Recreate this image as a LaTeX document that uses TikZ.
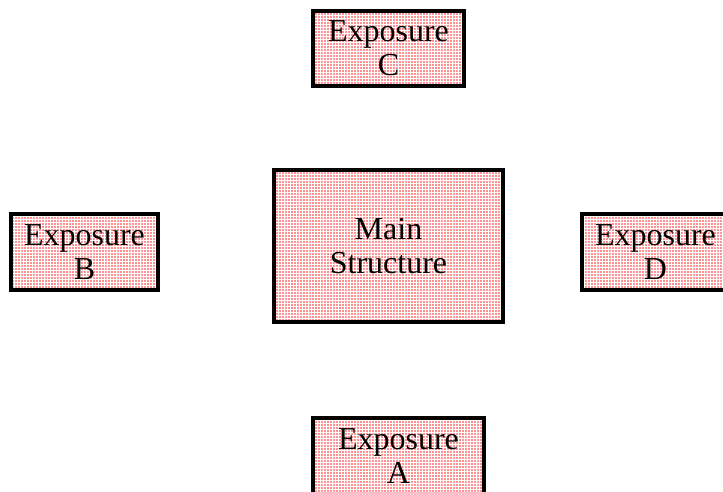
\documentclass[tikz,border=0pt]{standalone}
\usepackage{fontspec}
\setmainfont{Liberation Serif}
\usetikzlibrary{patterns}

% square red dots, 3pt apart
\pgfdeclarepatternformonly{reddots}{\pgfqpoint{0pt}{0pt}}{\pgfqpoint{3pt}{3pt}}{\pgfqpoint{3pt}{3pt}}{%
  \pgfpathrectangle{\pgfqpoint{0.5pt}{0.5pt}}{\pgfqpoint{1.6pt}{1.6pt}}%
  \pgfusepath{fill}}

\begin{document}
\begin{tikzpicture}[x=1pt,y=-1pt]
      \useasboundingbox (0,0) rectangle (723,492);
      \clip (0,0) rectangle (723,492);
      \begin{scope}[every node/.style={draw,line width=4.5pt,
          pattern=reddots,pattern color=red,align=center,inner sep=0pt,
          font=\fontsize{32}{34}\selectfont}]
        \node[minimum width=229pt,minimum height=152pt] (M) at (388.5,246) {Main\\ Structure};
        \node[minimum width=151pt,minimum height=75pt] (C) at (388.5,48.5) {Exposure\\C};
        \node[minimum width=147pt,minimum height=76pt] (B) at (84.5,252) {Exposure\\B};
        \node[minimum width=147pt,minimum height=76pt] (D) at (655.5,252) {Exposure\\D};
        \node[minimum width=171pt,minimum height=76pt] (A) at (398.5,456) {Exposure\\A};
      \end{scope}
    \end{tikzpicture}
\end{document}
